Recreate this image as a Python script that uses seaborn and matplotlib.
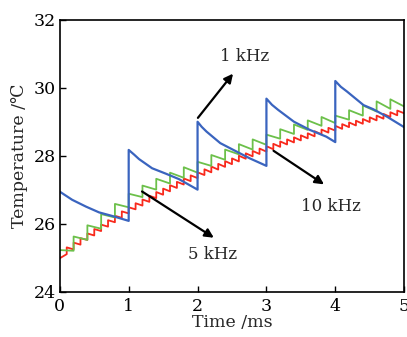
import matplotlib
matplotlib.use("Agg")
import matplotlib.pyplot as plt
import seaborn as sns
import pandas as pd

# 1 kHz: smooth decay between pulses (duplicate times = vertical jumps)
blue_t = [0.0, 0.18, 0.38, 0.57, 0.77, 1.0,
          1.0, 1.08, 1.15, 1.34, 1.54, 1.73, 2.0,
          2.0, 2.06, 2.13, 2.33, 2.52, 2.76, 3.0,
          3.0, 3.08, 3.17, 3.40, 3.63, 3.87, 4.0,
          4.0, 4.08, 4.17, 4.41, 4.55, 4.75, 5.0]
blue_T = [26.94, 26.70, 26.50, 26.33, 26.22, 26.08,
          28.17, 28.03, 27.90, 27.63, 27.47, 27.31, 27.00,
          29.00, 28.85, 28.71, 28.37, 28.17, 27.92, 27.70,
          29.68, 29.50, 29.35, 29.00, 28.76, 28.56, 28.40,
          30.20, 30.03, 29.89, 29.49, 29.37, 29.15, 28.84]

# 5 kHz: value just before each pulse (t = 0, 0.2, ..., 5.0) and just after
green_pulse_t = [0.0, 0.2, 0.4, 0.6, 0.8, 1.0, 1.2, 1.4, 1.6, 1.8, 2.0, 2.2, 2.4,
                 2.6, 2.8, 3.0, 3.2, 3.4, 3.6, 3.8, 4.0, 4.2, 4.4, 4.6, 4.8, 5.0]
green_low = [25.22, 25.20, 25.52, 25.85, 26.18, 26.48, 26.78, 27.00, 27.18, 27.35,
             27.50, 27.70, 27.88, 28.04, 28.18, 28.32, 28.50, 28.64, 28.76, 28.88,
             28.96, 29.06, 29.18, 29.30, 29.38, 29.45]
green_high = [25.22, 25.62, 25.95, 26.28, 26.58, 26.88, 27.12, 27.32, 27.50, 27.66,
              27.82, 28.02, 28.18, 28.34, 28.48, 28.62, 28.78, 28.92, 29.04, 29.14,
              29.18, 29.34, 29.48, 29.60, 29.66]

# 10 kHz: value just before each pulse (t = 0, 0.1, ..., 5.0) and just after
red_pulse_t = [0.0, 0.1, 0.2, 0.3, 0.4, 0.5, 0.6, 0.7, 0.8, 0.9,
               1.0, 1.1, 1.2, 1.3, 1.4, 1.5, 1.6, 1.7, 1.8, 1.9,
               2.0, 2.1, 2.2, 2.3, 2.4, 2.5, 2.6, 2.7, 2.8, 2.9,
               3.0, 3.1, 3.2, 3.3, 3.4, 3.5, 3.6, 3.7, 3.8, 3.9,
               4.0, 4.1, 4.2, 4.3, 4.4, 4.5, 4.6, 4.7, 4.8, 4.9, 5.0]
red_low = [24.98, 25.10, 25.24, 25.38, 25.52, 25.65, 25.78, 25.91, 26.04, 26.17,
           26.30, 26.42, 26.53, 26.64, 26.75, 26.85, 26.95, 27.05, 27.15, 27.25,
           27.34, 27.43, 27.51, 27.59, 27.67, 27.75, 27.83, 27.91, 27.98, 28.05,
           28.12, 28.19, 28.26, 28.33, 28.39, 28.45, 28.51, 28.57, 28.63, 28.68,
           28.74, 28.79, 28.84, 28.89, 28.94, 28.99, 29.04, 29.09, 29.14, 29.19, 29.25]
red_high = [24.98, 25.30, 25.44, 25.57, 25.71, 25.84, 25.97, 26.10, 26.23, 26.36,
            26.48, 26.60, 26.71, 26.82, 26.93, 27.03, 27.13, 27.23, 27.33, 27.42,
            27.51, 27.60, 27.68, 27.76, 27.84, 27.92, 28.00, 28.07, 28.14, 28.21,
            28.28, 28.35, 28.42, 28.48, 28.54, 28.60, 28.66, 28.72, 28.77, 28.82,
            28.88, 28.93, 28.98, 29.03, 29.08, 29.13, 29.18, 29.23, 29.28, 29.33]


def sawtooth(pulse_t, low, high):
    ts, vs = [], []
    for i in range(len(high)):
        ts += [pulse_t[i], pulse_t[i]]
        vs += [low[i], high[i]]
    ts.append(pulse_t[-1])
    vs.append(low[-1])
    return pd.DataFrame({"t": ts, "T": vs})


blue_df = pd.DataFrame({"t": blue_t, "T": blue_T})
green_df = sawtooth(green_pulse_t, green_low, green_high)
red_df = sawtooth(red_pulse_t, red_low, red_high)

sns.set_style("ticks")
plt.rcParams["font.family"] = ["DejaVu Serif"]

fig = plt.figure(figsize=(4.07, 3.37), dpi=100)
ax = fig.add_axes([0.147, 0.135, 0.846, 0.806])

sns.lineplot(data=red_df, x="t", y="T", sort=False, estimator=None,
             color="#f8291c", lw=1.3, ax=ax)
sns.lineplot(data=green_df, x="t", y="T", sort=False, estimator=None,
             color="#6cc04a", lw=1.3, ax=ax)
sns.lineplot(data=blue_df, x="t", y="T", sort=False, estimator=None,
             color="#3a64bf", lw=1.6, ax=ax)

arrow = dict(arrowstyle="-|>", color="black", lw=1.6, mutation_scale=13)
ax.annotate("", xy=(2.54, 30.48), xytext=(1.98, 29.05), arrowprops=arrow)
ax.annotate("", xy=(2.27, 25.54), xytext=(1.16, 26.99), arrowprops=arrow)
ax.annotate("", xy=(3.87, 27.11), xytext=(3.07, 28.19), arrowprops=arrow)
ax.text(2.68, 30.92, "1 kHz", fontsize=12, ha="center", va="center")
ax.text(2.22, 25.08, "5 kHz", fontsize=12, ha="center", va="center")
ax.text(3.94, 26.50, "10 kHz", fontsize=12, ha="center", va="center")

ax.set_xlim(0, 5)
ax.set_ylim(24, 32)
ax.set_xticks([0, 1, 2, 3, 4, 5])
ax.set_yticks([24, 26, 28, 30, 32])
ax.tick_params(direction="in", length=4, width=1, labelsize=12.5, colors="black")
ax.tick_params(axis="x", pad=5)
ax.tick_params(axis="y", pad=3)
ax.set_xlabel("Time /ms", fontsize=12.5, labelpad=-1)
ax.set_ylabel("Temperature /℃", fontsize=12.5, labelpad=4)
for s in ax.spines.values():
    s.set_visible(True)
    s.set_linewidth(1.2)
    s.set_color("black")

fig.savefig("out.png", dpi=100)
